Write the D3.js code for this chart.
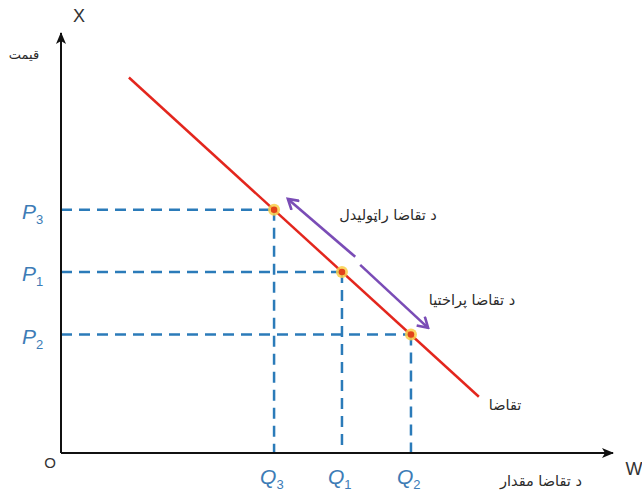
<!DOCTYPE html>
<html><head><meta charset="utf-8">
<script src="https://cdn.jsdelivr.net/npm/d3@7"></script>
<style>
html,body{margin:0;padding:0;background:#fff;}
svg{display:block;}
</style></head>
<body>
<svg id="chart" width="642" height="493"></svg>
<script>
// ---- data ----
const qLabels = ["Q3", "Q1", "Q2"];
const qValues = [38.6, 50.9, 63.4];
const pLabels = ["P3", "P1", "P2"];
const pValues = [57.9, 43.1, 28.2];
const demandLine = [[12.3, 89.4], [75.7, 13.4]];
const contractionArrow = [[53.3, 46.7], [41.1, 60.5]];
const expansionArrow = [[54.2, 44.8], [66.5, 29.8]];
const textLabels = {
  yTitle: "قیمت",
  xTitle: "د تقاضا مقدار",
  demand: "تقاضا",
  contraction: "د تقاضا راټولیدل",
  expansion: "د تقاضا پراختیا"
};

const svg = d3.select("#chart");
const x = d3.scaleLinear().domain([0, 100]).range([61, 613]);
const y = d3.scaleLinear().domain([0, 100]).range([453, 33]);

const defs = svg.append("defs");
defs.append("marker").attr("id", "axArrow")
  .attr("viewBox", "0 0 12 10").attr("refX", 11).attr("refY", 5)
  .attr("markerWidth", 12).attr("markerHeight", 10).attr("markerUnits", "userSpaceOnUse")
  .attr("orient", "auto")
  .append("path").attr("d", "M0,0 L12,5 L0,10 L3,5 Z").attr("fill", "#111");
defs.append("marker").attr("id", "purArrow")
  .attr("viewBox", "0 0 14 14").attr("refX", 12).attr("refY", 7)
  .attr("markerWidth", 14).attr("markerHeight", 14).attr("markerUnits", "userSpaceOnUse")
  .attr("orient", "auto")
  .append("path").attr("d", "M2,1 L12,7 L2,13").attr("fill", "none")
  .attr("stroke", "#7a4cb6").attr("stroke-width", 2.6).attr("stroke-linejoin", "miter");

const blue = "#2b7bb9";
const labelBlue = "#3d7cb6";

// dashed guides
qValues.forEach((q, i) => {
  const p = pValues[i];
  svg.append("line").attr("x1", x(0)).attr("y1", y(p)).attr("x2", x(q)).attr("y2", y(p))
    .attr("stroke", blue).attr("stroke-width", 2.5).attr("stroke-dasharray", "11,7");
  svg.append("line").attr("x1", x(q)).attr("y1", y(p)).attr("x2", x(q)).attr("y2", y(0))
    .attr("stroke", blue).attr("stroke-width", 2.5).attr("stroke-dasharray", "11,7");
});

// axes
svg.append("line").attr("x1", x(0)).attr("y1", y(0)).attr("x2", x(0)).attr("y2", y(100))
  .attr("stroke", "#111").attr("stroke-width", 2).attr("marker-end", "url(#axArrow)");
svg.append("line").attr("x1", x(0)).attr("y1", y(0)).attr("x2", x(100)).attr("y2", y(0))
  .attr("stroke", "#111").attr("stroke-width", 2).attr("marker-end", "url(#axArrow)");

// demand line
svg.append("line")
  .attr("x1", x(demandLine[0][0])).attr("y1", y(demandLine[0][1]))
  .attr("x2", x(demandLine[1][0])).attr("y2", y(demandLine[1][1]))
  .attr("stroke", "#e3261d").attr("stroke-width", 2.5);

// purple arrows
[contractionArrow, expansionArrow].forEach(a => {
  svg.append("line")
    .attr("x1", x(a[0][0])).attr("y1", y(a[0][1]))
    .attr("x2", x(a[1][0])).attr("y2", y(a[1][1]))
    .attr("stroke", "#7a4cb6").attr("stroke-width", 2.6)
    .attr("marker-end", "url(#purArrow)");
});

// points
qValues.forEach((q, i) => {
  svg.append("circle").attr("cx", x(q)).attr("cy", y(pValues[i])).attr("r", 6)
    .attr("fill", "#f9cf4a").attr("opacity", 0.85);
  svg.append("circle").attr("cx", x(q)).attr("cy", y(pValues[i])).attr("r", 3.3)
    .attr("fill", "#e2421a");
});

// labels with subscripts
function subLabel(str, px, py, anchor) {
  const t = svg.append("text").attr("x", px).attr("y", py)
    .attr("font-family", "Liberation Sans, Arial, sans-serif")
    .attr("font-style", "italic").attr("fill", labelBlue).attr("text-anchor", anchor);
  t.append("tspan").attr("font-size", 21).text(str[0]);
  t.append("tspan").attr("font-size", 13).attr("dy", 5).attr("font-style", "normal").text(str.slice(1));
}
pValues.forEach((p, i) => subLabel(pLabels[i], 22, y(p) + 9, "start"));
qValues.forEach((q, i) => subLabel(qLabels[i], x(q) - 14, 484, "start"));

// axis letters
svg.append("text").attr("x", 79).attr("y", 22).attr("text-anchor", "middle")
  .attr("font-family", "Liberation Sans, Arial, sans-serif").attr("font-size", 18).attr("fill", "#333").text("X");
svg.append("text").attr("x", 634).attr("y", 475).attr("text-anchor", "middle")
  .attr("font-family", "Liberation Sans, Arial, sans-serif").attr("font-size", 18).attr("fill", "#333").text("W");
svg.append("text").attr("x", 50).attr("y", 468).attr("text-anchor", "middle")
  .attr("font-family", "Liberation Sans, Arial, sans-serif").attr("font-size", 15).attr("fill", "#333").text("O");

// Pashto text labels
function arText(str, cx, cy, size) {
  svg.append("text").attr("x", cx).attr("y", cy).attr("text-anchor", "middle")
    .attr("dominant-baseline", "central")
    .attr("font-family", "DejaVu Sans, sans-serif").attr("font-size", size)
    .attr("fill", "#2a2a2a").text(str);
}
arText(textLabels.yTitle, 24, 54, 13);
arText(textLabels.contraction, 388, 215, 14.5);
arText(textLabels.expansion, 472, 300, 14.5);
arText(textLabels.demand, 505, 405, 14.5);
arText(textLabels.xTitle, 541, 481, 14.5);
</script>
</body></html>
